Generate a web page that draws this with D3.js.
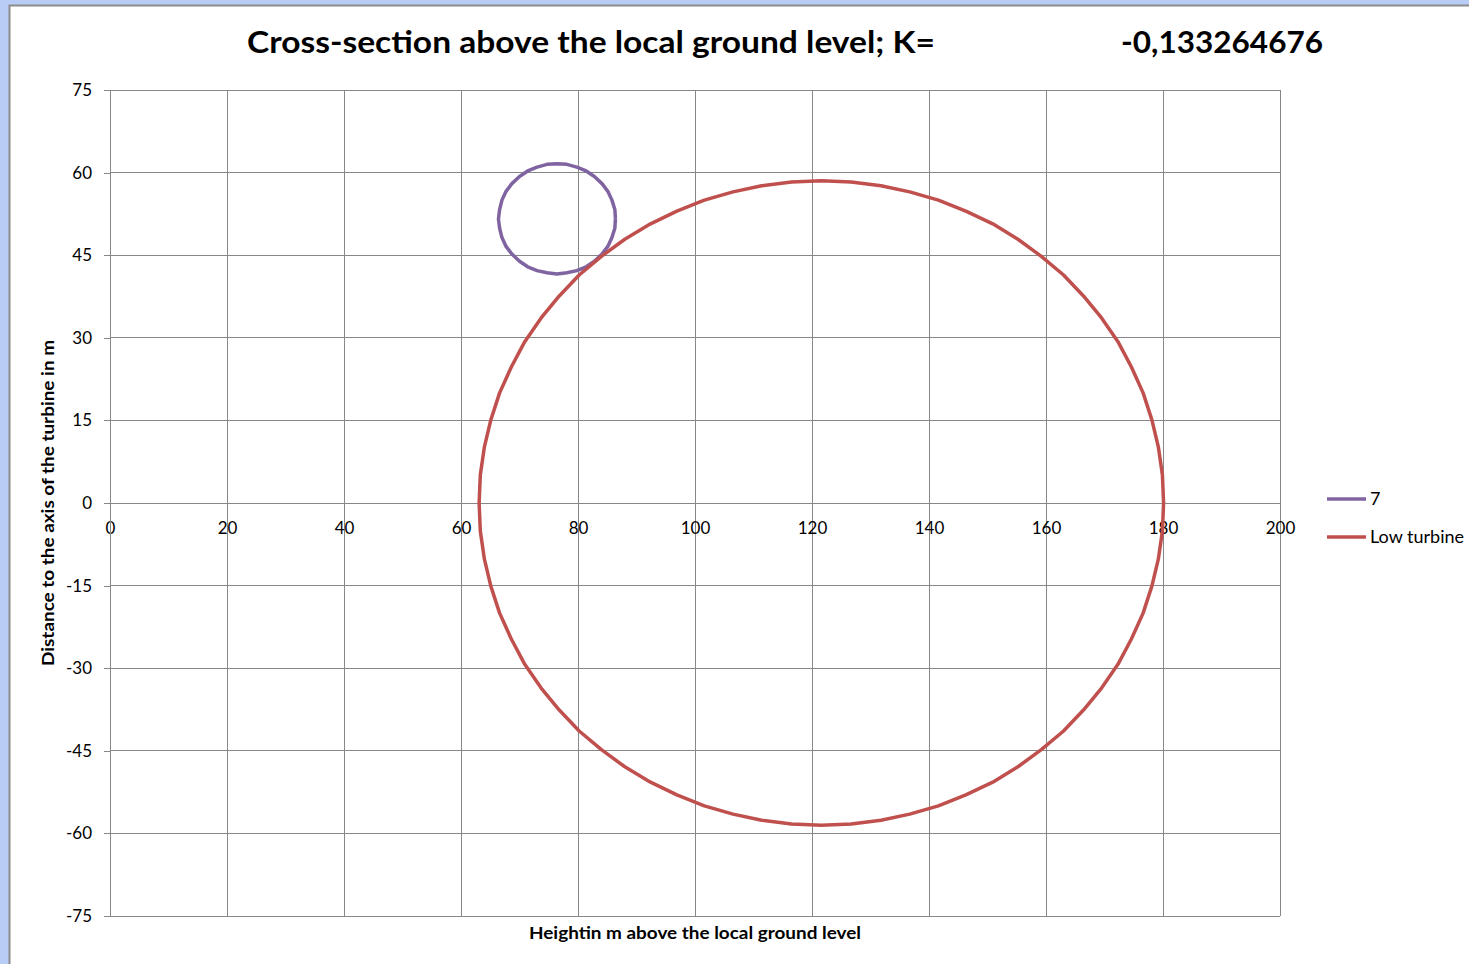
<!DOCTYPE html>
<html><head><meta charset="utf-8">
<script src="https://cdn.jsdelivr.net/npm/d3@7"></script>
<style>
html,body{margin:0;padding:0;background:#b8cdf6;}
svg{display:block;}
</style></head>
<body>
<svg id="c" width="1469" height="964"></svg>
<script>
// ---- data ----
const titleText = "Cross-section above the local ground level; K=";
const kValue = "-0,133264676";
const xTicks = [0, 20, 40, 60, 80, 100, 120, 140, 160, 180, 200];
const yTicks = [-75, -60, -45, -30, -15, 0, 15, 30, 45, 60, 75];
const xLabel = "Heightin m above the local ground level";
const yLabel = "Distance to the axis of the turbine in m";
const seriesNames = ["7", "Low turbine"];

// series "7" (small circle)
const smallX = [86.4,86.3,85.8,85.1,84.1,82.8,81.4,79.8,78.1,76.4,74.7,73.0,71.4,70.0,68.7,67.7,67.0,66.6,66.4,66.6,67.0,67.7,68.7,70.0,71.4,73.0,74.7,76.4,78.1,79.8,81.4,82.8,84.1,85.1,85.8,86.3,86.4];
const smallY = [51.6,53.3,55.0,56.6,58.0,59.3,60.3,61.0,61.5,61.6,61.5,61.0,60.3,59.3,58.0,56.6,55.0,53.3,51.6,49.9,48.2,46.6,45.2,43.9,42.9,42.2,41.8,41.6,41.8,42.2,42.9,43.9,45.2,46.6,48.2,49.9,51.6];

// series "Low turbine" (large circle)
const lowX = [180.1,179.9,179.2,178.1,176.6,174.6,172.3,169.5,166.4,163.0,159.2,155.2,150.9,146.3,141.6,136.7,131.8,126.7,121.6,
  116.5,111.4,106.5,101.6,96.9,92.4,88.0,84.0,80.2,76.8,73.7,70.9,68.6,66.6,65.1,64.0,63.3,63.1,
  63.3,64.0,65.1,66.6,68.6,70.9,73.7,76.8,80.2,84.0,88.0,92.4,96.9,101.6,106.5,111.4,116.5,121.6,
  126.7,131.8,136.7,141.6,146.3,150.9,155.2,159.2,163.0,166.4,169.5,172.3,174.6,176.6,178.1,179.2,179.9,180.1];
const lowY = [0,5.1,10.2,15.1,20.0,24.7,29.3,33.6,37.6,41.4,44.8,47.9,50.7,53.0,55.0,56.5,57.6,58.3,58.5,
  58.3,57.6,56.5,55.0,53.0,50.7,47.9,44.8,41.4,37.6,33.6,29.3,24.7,20.0,15.1,10.2,5.1,0,
  -5.1,-10.2,-15.1,-20.0,-24.7,-29.3,-33.6,-37.6,-41.4,-44.8,-47.9,-50.7,-53.0,-55.0,-56.5,-57.6,-58.3,-58.5,
  -58.3,-57.6,-56.5,-55.0,-53.0,-50.7,-47.9,-44.8,-41.4,-37.6,-33.6,-29.3,-24.7,-20.0,-15.1,-10.2,-5.1,0];

const colors = ["#8064a2", "#c0504d"];

// ---- drawing ----
const svg = d3.select("#c");
const font = "Lato, 'Open Sans', sans-serif";

svg.append("rect").attr("x", 9.5).attr("y", 5.5).attr("width", 1469).attr("height", 964)
  .attr("fill", "#fff").attr("stroke", "#8c8c8c").attr("stroke-width", 2);

const x = d3.scaleLinear().domain([0, 200]).range([110, 1280]);
const y = d3.scaleLinear().domain([-75, 75]).range([916, 90]);

const grid = svg.append("g").attr("stroke", "#878787").attr("stroke-width", 1).attr("shape-rendering", "crispEdges");
xTicks.forEach(t => grid.append("line").attr("x1", x(t)).attr("x2", x(t)).attr("y1", y(75)).attr("y2", y(-75)));
yTicks.forEach(t => grid.append("line").attr("x1", x(0)).attr("x2", x(200)).attr("y1", y(t)).attr("y2", y(t)));

const fmt = d => String(d);
const xAxis = d3.axisBottom(x).tickValues(xTicks).tickSize(5).tickPadding(10).tickFormat(fmt);
const yAxis = d3.axisLeft(y).tickValues(yTicks).tickSize(6).tickPadding(12).tickFormat(fmt);
const gx = svg.append("g").attr("transform", `translate(0,${y(0)})`).call(xAxis);
const gy = svg.append("g").attr("transform", `translate(${x(0)},0)`).call(yAxis);
[gx, gy].forEach(g => {
  g.attr("font-size", null).attr("font-family", null);
  g.select(".domain").attr("stroke", "#878787").attr("shape-rendering", "crispEdges");
  g.selectAll(".tick line").attr("stroke", "#878787").attr("shape-rendering", "crispEdges");
  g.selectAll(".tick text").style("font-family", font).style("font-size", "17px").attr("fill", "#000");
});
gx.selectAll(".tick text").attr("dy", "0.95em");

const line = d3.line().x(d => x(d[0])).y(d => y(d[1]));
const smallPts = smallX.map((v, i) => [v, smallY[i]]);
const lowPts = lowX.map((v, i) => [v, lowY[i]]);
svg.append("path").datum(smallPts).attr("d", line).attr("fill", "none")
  .attr("stroke", colors[0]).attr("stroke-width", 3.5).attr("stroke-linejoin", "round");
svg.append("path").datum(lowPts).attr("d", line).attr("fill", "none")
  .attr("stroke", colors[1]).attr("stroke-width", 3.5).attr("stroke-linejoin", "round");

svg.append("text").attr("x", 247).attr("y", 53).attr("font-family", font).attr("font-weight", "bold")
  .attr("font-size", 31).attr("fill", "#000").attr("textLength", 688).attr("lengthAdjust", "spacingAndGlyphs")
  .text(titleText);
svg.append("text").attr("x", 1121).attr("y", 53).attr("font-family", font).attr("font-weight", "bold")
  .attr("font-size", 31).attr("fill", "#000").attr("textLength", 202).attr("lengthAdjust", "spacingAndGlyphs")
  .text(kValue);

svg.append("text").attr("x", 695).attr("y", 939).attr("text-anchor", "middle").attr("font-family", font)
  .attr("font-weight", "bold").attr("font-size", 17).attr("textLength", 332).attr("lengthAdjust", "spacingAndGlyphs")
  .text(xLabel);
svg.append("text").attr("transform", "translate(54,503) rotate(-90)").attr("text-anchor", "middle")
  .attr("font-family", font).attr("font-weight", "bold").attr("font-size", 17)
  .attr("textLength", 326).attr("lengthAdjust", "spacingAndGlyphs").text(yLabel);

const legY = [499, 537];
seriesNames.forEach((n, i) => {
  svg.append("line").attr("x1", 1327).attr("x2", 1366).attr("y1", legY[i]).attr("y2", legY[i])
    .attr("stroke", colors[i]).attr("stroke-width", 3.5);
  svg.append("text").attr("x", 1370).attr("y", legY[i] + 6).attr("font-family", font)
    .attr("font-size", 18).attr("fill", "#000").text(n);
});
</script>
</body></html>
